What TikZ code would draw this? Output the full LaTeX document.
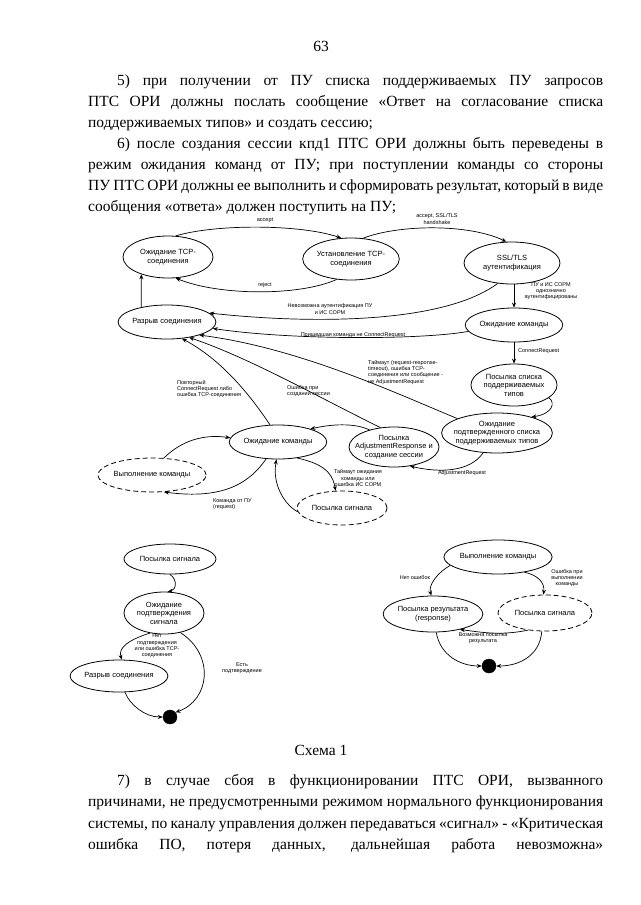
\documentclass[tikz,border=0pt]{standalone}
\usepackage{fontspec}
\setmainfont{Liberation Serif}
\newfontfamily\arial{Liberation Sans}
\usetikzlibrary{shapes.geometric,arrows.meta}
\begin{document}
\begin{tikzpicture}[x=1pt,y=-1pt,
  st/.style={ellipse,draw,line width=0.8pt,inner sep=0pt,align=center,font=\arial\fontsize{7.5}{8.5}\selectfont},
  dst/.style={st,dash pattern=on 5pt off 3pt},
  lbl/.style={inner sep=0pt,align=center,font=\arial\fontsize{5.5}{6.3}\selectfont},
  arr/.style={line width=0.7pt,-{Stealth[length=5pt,width=4pt]}},
  para/.style={anchor=north west,inner sep=0pt,text width=515pt,align=justify,font=\fontsize{15.5}{21}\selectfont},
  endpt/.style={circle,draw,fill=black,minimum size=14pt,inner sep=0pt}
]
\useasboundingbox[fill=white] (0,0) rectangle (640,905);

% ---------- text ----------
\node[anchor=base,inner sep=0pt,font=\fontsize{15.5}{20}\selectfont] (pg) at (321,51) {63};
\node[para] (p1) at (88,75) {\hspace*{29pt}5) при получении от ПУ списка поддерживаемых ПУ запросов\linebreak
ПТС ОРИ должны послать сообщение «Ответ на согласование списка\linebreak
поддерживаемых типов» и создать сессию;\par
\hspace*{29pt}6) после создания сессии кпд1 ПТС ОРИ должны быть переведены в\linebreak
режим ожидания команд от ПУ; при поступлении команды со стороны\linebreak
ПУ ПТС ОРИ должны ее выполнить и сформировать результат, который в виде\linebreak
сообщения «ответа» должен поступить на ПУ;};

\node[anchor=base,inner sep=0pt,font=\fontsize{15.5}{20}\selectfont] (cap) at (321,755) {Схема 1};
\node[para,font=\fontsize{15.5}{21.5}\selectfont] (p2) at (88,774) {\hspace*{29pt}7) в случае сбоя в функционировании ПТС ОРИ, вызванного\linebreak
причинами, не предусмотренными режимом нормального функционирования\linebreak
системы, по каналу управления должен передаваться «сигнал» - «Критическая\linebreak
ошибка ПО, потеря данных, дальнейшая работа невозможна»\linebreak};

% ---------- states (top diagram) ----------
\node[st,minimum width=90pt,minimum height=42pt] (tcpwait) at (168,257) {Ожидание TCP-\\соединения};
\node[st,minimum width=92pt,minimum height=42pt] (tcpest) at (351,259) {Установление TCP-\\соединения};
\node[st,minimum width=96pt,minimum height=42pt] (ssl) at (512,263) {SSL/TLS\\аутентификация};
\node[st,minimum width=90pt,minimum height=34pt] (brk) at (167,322) {Разрыв соединения};
\node[st,minimum width=84pt,minimum height=34pt] (wcmdR) at (514,325) {Ожидание команды};
\node[st,minimum width=78pt,minimum height=42pt] (sendlist) at (514,385) {Посылка списка\\поддерживаемых\\типов};
\node[st,minimum width=88pt,minimum height=40pt,inner xsep=-4pt] (wconf) at (497,433) {Ожидание\\подтвержденного списка\\поддерживаемых типов};
\node[st,minimum width=90pt,minimum height=40pt,inner xsep=-7pt] (adjresp) at (394,447) {Посылка\\AdjustmentResponse и\\создание сессии};
\node[st,minimum width=90pt,minimum height=34pt] (wcmdM) at (278,442) {Ожидание команды};
\node[dst,minimum width=88pt,minimum height=34pt] (exec) at (152,475) {Выполнение команды};
\node[dst,minimum width=90pt,minimum height=34pt] (sig) at (342,508) {Посылка сигнала};

% ---------- bottom left ----------
\node[st,minimum width=92pt,minimum height=30pt] (sig2) at (170,559) {Посылка сигнала};
\node[st,minimum width=80pt,minimum height=42pt] (wsig) at (164,613) {Ожидание\\подтверждения\\сигнала};
\node[st,minimum width=84pt,minimum height=32pt] (brk2) at (119,676) {Разрыв соединения};
\node[endpt] (end1) at (170,717) {};

% ---------- bottom right ----------
\node[st,minimum width=108pt,minimum height=34pt] (exec2) at (498,557) {Выполнение команды};
\node[st,minimum width=88pt,minimum height=36pt] (resp) at (433,614) {Посылка результата\\(response)};
\node[dst,minimum width=94pt,minimum height=36pt] (sig3) at (545,613) {Посылка сигнала};
\node[endpt] (end2) at (489,666) {};

% ---------- connectors (top) ----------
\draw[arr] (tcpwait.70) .. controls (215,224) and (300,224) .. (tcpest.115);
\draw[arr] (tcpest.235) .. controls (300,296) and (220,296) .. (tcpwait.290);
\draw[arr] (tcpest.60) .. controls (400,224) and (470,224) .. (ssl.105);
\draw[arr] (ssl.south -| wcmdR.north) -- (wcmdR.north);
\draw[arr] (ssl.235) .. controls (440,326) and (300,323) .. (brk.12);
\draw[arr] (wcmdR.188) .. controls (420,340) and (290,340) .. (brk.-8);
\draw[arr] (wcmdR.south) -- (sendlist.north);
\draw[arr] (sendlist.-20) .. controls (556,403) and (552,414) .. (wconf.25);
\draw[arr] (wconf.160) .. controls (400,395) and (300,348) .. (brk.-22);
\draw[arr] (adjresp.125) .. controls (320,398) and (250,358) .. (brk.-35);
\draw[arr] (adjresp.145) .. controls (357,424) and (337,423) .. (wcmdM.22);
\draw[arr] (wconf.235) .. controls (470,472) and (440,473) .. (adjresp.-50);
\draw[arr] (wcmdM.115) .. controls (250,395) and (222,360) .. (brk.-48);
\draw[arr] (brk.150) -- (tcpwait.213);
\draw[arr] (exec.55) .. controls (182,440) and (205,434) .. (wcmdM.175);
\draw[arr] (wcmdM.235) .. controls (250,482) and (225,500) .. (exec.-55);
\draw[arr] (wcmdM.-40) .. controls (330,465) and (333,478) .. (sig.110);
\draw[arr] (sig.185) .. controls (285,505) and (272,485) .. (wcmdM.265);

% ---------- connectors (bottom left) ----------
\draw[arr] (sig2.south) .. controls (178,580) and (176,590) .. (wsig.80);
\draw[arr] (wsig.235) .. controls (128,640) and (118,648) .. (brk2.80);
\draw[arr] (wsig.-50) .. controls (215,655) and (210,700) .. (end1.40);
\draw[arr] (brk2.-70) .. controls (130,705) and (145,717) .. (end1.west);

% ---------- connectors (bottom right) ----------
\draw[arr] (exec2.190) .. controls (438,572) and (428,585) .. (resp.95);
\draw[arr] (exec2.-30) .. controls (538,575) and (545,583) .. (sig3.95);
\draw[arr] (sig3.225) .. controls (500,636) and (480,632) .. (resp.-30);
\draw[arr] (resp.-80) .. controls (440,655) and (460,666) .. (end2.west);
\draw[arr] (sig3.-100) .. controls (540,655) and (520,666) .. (end2.east);

% ---------- labels ----------
\node[lbl] (la1) at (265,220) {accept};
\node[lbl] (la2) at (265,285) {reject};
\node[lbl] (la3) at (437,219) {accept, SSL/TLS\\handshake};
\node[lbl] (la4) at (551,291) {ПУ и ИС СОРМ\\однозначно\\аутентифицированы};
\node[lbl] (la5) at (330,309) {Невозможна аутентификация ПУ\\и ИС СОРМ};
\node[lbl] (la6) at (353,335) {Пришедшая команда не ConnectRequest};
\node[lbl,anchor=west] (la7) at (518,351) {ConnectRequest};
\node[lbl,anchor=north west,align=left] (la8) at (368,360) {Таймаут (request-response-\\timeout), ошибка TCP-\\соединения или сообщение -\\не AdjustmentRequest};
\node[lbl,anchor=west,align=left] (la9) at (177,389) {Повторный\\ConnectRequest либо\\ошибка TCP-соединения};
\node[lbl,anchor=west,align=left] (la10) at (287,391) {Ошибка при\\создании сессии};
\node[lbl] (la11) at (462,473) {AdjustmentRequest};
\node[lbl,anchor=west,align=left] (la12) at (213,504) {Команда от ПУ\\(request)};
\node[lbl] (la13) at (358,478) {Таймаут ожидания\\команды или\\ошибка ИС СОРМ};
\node[lbl] (la14) at (157,646) {Нет\\подтверждения\\или ошибка TCP-\\соединения};
\node[lbl] (la15) at (242,668) {Есть\\подтверждение};
\node[lbl] (la16) at (415,578) {Нет ошибок};
\node[lbl] (la17) at (567,578) {Ошибка при\\выполнении\\команды};
\node[lbl] (la18) at (483,638) {Возможна посылка\\результата};
\end{tikzpicture}
\end{document}
